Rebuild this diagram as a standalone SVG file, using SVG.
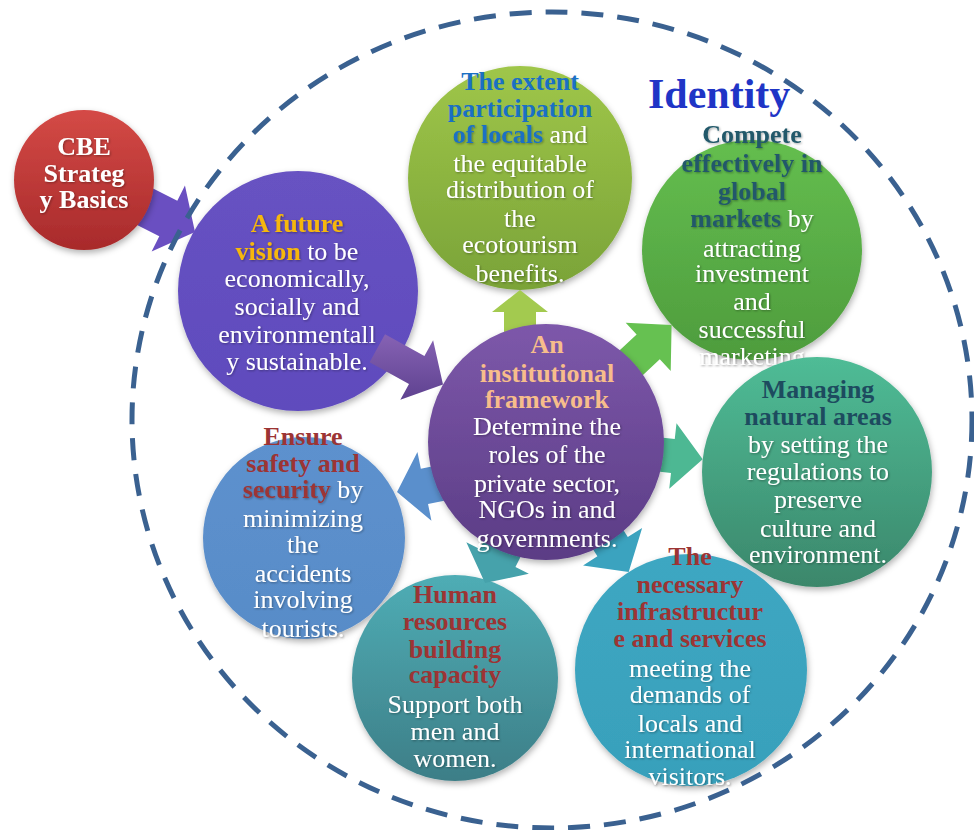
<svg xmlns="http://www.w3.org/2000/svg" width="974" height="830" viewBox="0 0 974 830">
<style>
text{font-family:"Liberation Serif","Times New Roman",serif;font-size:26px;text-anchor:middle;fill:#ffffff}
.t{filter:url(#ts)}
.b{font-weight:bold}
.gold{fill:#f6b70a}
.blue{fill:#1a70c4}
.dteal{fill:#22596a}
.dgreen{fill:#1d4b5f}
.peach{fill:#f7bd8b}
.red{fill:#9c3434}
.node{filter:url(#ds)}
</style>
<defs>
<filter id="ds" x="-20%" y="-20%" width="140%" height="140%"><feDropShadow dx="1" dy="3" stdDeviation="3" flood-color="#000" flood-opacity="0.3"/></filter>
<filter id="ts" x="-10%" y="-30%" width="120%" height="160%"><feDropShadow dx="1" dy="1" stdDeviation="1.2" flood-color="#000" flood-opacity="0.35"/></filter>
<linearGradient id="gRed" x1="0" y1="0" x2="0" y2="1"><stop offset="0" stop-color="#d44a46"/><stop offset="1" stop-color="#a82a2b"/></linearGradient>
<linearGradient id="gVis" x1="0" y1="0" x2="0" y2="1"><stop offset="0" stop-color="#6752c2"/><stop offset="1" stop-color="#5f4bbd"/></linearGradient>
<linearGradient id="gTop" x1="0" y1="0" x2="0" y2="1"><stop offset="0" stop-color="#9fc649"/><stop offset="1" stop-color="#7aa338"/></linearGradient>
<linearGradient id="gCmp" x1="0" y1="0" x2="0" y2="1"><stop offset="0" stop-color="#64be4f"/><stop offset="1" stop-color="#4e9c3d"/></linearGradient>
<linearGradient id="gMan" x1="0" y1="0" x2="0" y2="1"><stop offset="0" stop-color="#4fbc96"/><stop offset="1" stop-color="#3b876b"/></linearGradient>
<linearGradient id="gCen" x1="0" y1="0" x2="0" y2="1"><stop offset="0" stop-color="#7d58aa"/><stop offset="1" stop-color="#5b3c85"/></linearGradient>
<linearGradient id="gEns" x1="0" y1="0" x2="0" y2="1"><stop offset="0" stop-color="#5d91ce"/><stop offset="1" stop-color="#588cc8"/></linearGradient>
<linearGradient id="gHum" x1="0" y1="0" x2="0" y2="1"><stop offset="0" stop-color="#4fadb5"/><stop offset="1" stop-color="#3d7e87"/></linearGradient>
<linearGradient id="gInf" x1="0" y1="0" x2="0" y2="1"><stop offset="0" stop-color="#3ea7c2"/><stop offset="1" stop-color="#38a0bb"/></linearGradient>
<linearGradient id="gArr" x1="0" y1="0" x2="0" y2="1"><stop offset="0" stop-color="#8662b4"/><stop offset="1" stop-color="#5f4290"/></linearGradient>
</defs>

<g id="node-vision">
<circle class="node" cx="298" cy="291" r="120" fill="url(#gVis)"/>
<text class="t b gold" x="297" y="232">A future</text>
<text class="t" x="297" y="260"><tspan class="b gold">vision</tspan> to be</text>
<text class="t" x="297" y="287">economically,</text>
<text class="t" x="297" y="315">socially and</text>
<text class="t" x="297" y="343">environmentall</text>
<text class="t" x="297" y="370">y sustainable.</text>
</g>

<g id="node-participation">
<circle class="node" cx="520" cy="178" r="112" fill="url(#gTop)"/>
<text class="b blue" x="520" y="90">The extent</text>
<text class="b blue" x="520" y="117">participation</text>
<text class="t" x="520" y="143"><tspan class="b blue">of locals</tspan> and</text>
<text class="t" x="520" y="172">the equitable</text>
<text class="t" x="520" y="198">distribution of</text>
<text class="t" x="520" y="227">the</text>
<text class="t" x="520" y="253">ecotourism</text>
<text class="t" x="520" y="282">benefits.</text>
</g>

<g id="node-compete">
<circle class="node" cx="752" cy="250" r="110" fill="url(#gCmp)"/>
<text class="t b dteal" x="752" y="143">Compete</text>
<text class="t b dteal" x="752" y="172">effectively in</text>
<text class="t b dteal" x="752" y="200">global</text>
<text class="t" x="752" y="227"><tspan class="b dteal">markets</tspan> by</text>
<text class="t" x="752" y="257">attracting</text>
<text class="t" x="752" y="282">investment</text>
<text class="t" x="752" y="310">and</text>
<text class="t" x="752" y="338">successful</text>
<text class="t" x="752" y="365">marketing</text>
</g>

<g id="node-managing">
<circle class="node" cx="817" cy="472" r="115" fill="url(#gMan)"/>
<text class="b dgreen" x="818" y="398">Managing</text>
<text class="b dgreen" x="818" y="425">natural areas</text>
<text class="t" x="818" y="453">by setting the</text>
<text class="t" x="818" y="480">regulations to</text>
<text class="t" x="818" y="508">preserve</text>
<text class="t" x="818" y="537">culture and</text>
<text class="t" x="818" y="563">environment.</text>
</g>

<g id="node-safety">
<circle class="node" cx="304" cy="538" r="101" fill="url(#gEns)"/>
<text class="b red" x="303" y="445">Ensure</text>
<text class="b red" x="303" y="472">safety and</text>
<text class="t" x="303" y="498"><tspan class="b red">security</tspan> by</text>
<text class="t" x="303" y="527">minimizing</text>
<text class="t" x="303" y="553">the</text>
<text class="t" x="303" y="582">accidents</text>
<text class="t" x="303" y="608">involving</text>
<text class="t" x="303" y="637">tourists.</text>
</g>

<g id="node-human">
<circle class="node" cx="455" cy="678" r="103" fill="url(#gHum)"/>
<text class="b red" x="455" y="603">Human</text>
<text class="b red" x="455" y="630">resources</text>
<text class="b red" x="455" y="658">building</text>
<text class="b red" x="455" y="683">capacity</text>
<text class="t" x="455" y="713">Support both</text>
<text class="t" x="455" y="740">men and</text>
<text class="t" x="455" y="767">women.</text>
</g>

<g id="node-infrastructure">
<circle class="node" cx="691" cy="670" r="116" fill="url(#gInf)"/>
<text class="b red" x="690" y="565">The</text>
<text class="b red" x="690" y="593">necessary</text>
<text class="b red" x="690" y="620">infrastructur</text>
<text class="b red" x="690" y="647">e and services</text>
<text class="t" x="690" y="677">meeting the</text>
<text class="t" x="690" y="703">demands of</text>
<text class="t" x="690" y="732">locals and</text>
<text class="t" x="690" y="758">international</text>
<text class="t" x="690" y="785">visitors.</text>
</g>

<g id="connectors">
<polygon fill="#6a4fc1" points="110.4,211.5 159.3,236.3 151.65,251.43 195,232 184.95,185.57 177.3,200.7 128.4,175.9"/>
<polygon fill="url(#gArr)" points="369.59,362.37 409.01,384.06 400.33,399.82 443,384.5 433.11,340.26 424.43,356.02 385.01,334.33"/>
<polygon fill="#a3ca4f" points="536,350 536,312 548,312 520,290 492,312 504,312 504,350"/>
<polygon fill="#66c151" points="610.09,405.63 659.8,359.25 670.72,370.94 671.6,325 625.7,322.7 636.62,334.39 586.91,380.77"/>
<polygon fill="#4db893" points="611.33,466.3 671.01,472.9 669.25,488.8 702.7,459.3 676.51,423.2 674.75,439.1 615.07,432.5"/>
<polygon fill="#5a8fcc" points="476.7,457.36 420.84,468.76 417.44,452.1 397,492 431.44,520.7 428.04,504.04 483.9,492.64"/>
<polygon fill="#46a2ab" points="507.64,493.6 479.74,549 466.34,542.25 485,583 528.86,573.75 515.46,567 543.36,511.6"/>
<polygon fill="#3ba3bf" points="565.21,505.67 597.4,556.35 583.05,565.48 628.7,572 642.13,527.88 627.78,537.01 595.59,486.33"/>
</g>

<g id="node-cbe">
<circle class="node" cx="84" cy="180" r="70" fill="url(#gRed)"/>
<text class="t b" x="84" y="155">CBE</text>
<text class="t b" x="84" y="182">Strateg</text>
<text class="t b" x="84" y="208">y Basics</text>
</g>

<g id="node-framework">
<circle class="node" cx="546" cy="442" r="118" fill="url(#gCen)"/>
<text class="b peach" x="547" y="353">An</text>
<text class="b peach" x="547" y="382">institutional</text>
<text class="b peach" x="547" y="408">framework</text>
<text class="t" x="547" y="435">Determine the</text>
<text class="t" x="547" y="463">roles of the</text>
<text class="t" x="547" y="492">private sector,</text>
<text class="t" x="547" y="518">NGOs in and</text>
<text class="t" x="547" y="547">governments.</text>
</g>

<g id="identity-boundary">
<ellipse cx="552" cy="420" rx="420" ry="408" fill="none" stroke="#3a6190" stroke-width="5" stroke-dasharray="22 14"/>
<text x="648" y="108" style="font-size:42px;font-weight:bold;fill:#1f35c6;text-anchor:start">Identity</text>
</g>
</svg>
